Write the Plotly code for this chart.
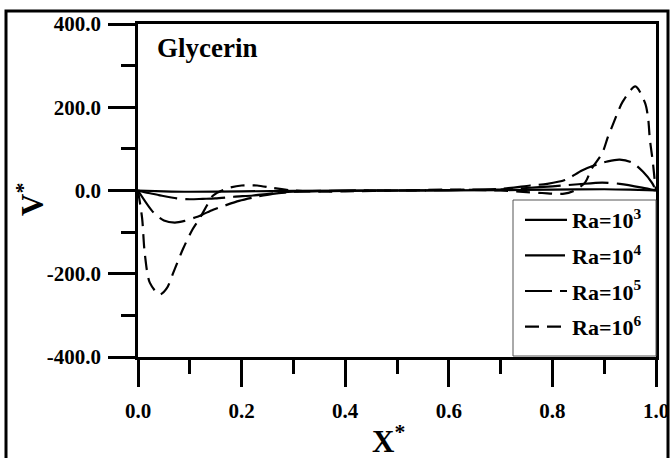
import plotly.graph_objects as go

# ---- data ----
x_ra3 = [0, 0.05, 0.1, 0.2, 0.3, 0.5, 0.7, 0.8, 0.9, 0.95, 1.0]
v_ra3 = [0, -2, -3, -2, -1, 0, 1, 2, 3, 2, 0]

x_ra4 = [0, 0.02, 0.04, 0.075, 0.1, 0.125, 0.149, 0.185, 0.222, 0.26, 0.3, 0.4, 0.5,
         0.6, 0.7, 0.75, 0.8, 0.85, 0.896, 0.93, 0.973, 1.0]
v_ra4 = [0, -6, -11, -19, -21, -20, -19, -15, -12, -7, -3, -1, 0,
         1, 3, 6, 10, 15, 19, 16, 7, 0]

x_ra5 = [0, 0.03, 0.05, 0.071, 0.09, 0.11, 0.124, 0.145, 0.168, 0.195, 0.222, 0.26, 0.3,
         0.4, 0.5, 0.6, 0.7, 0.757, 0.79, 0.824, 0.857, 0.88, 0.907, 0.93, 0.954, 0.975, 0.992, 1.0]
v_ra5 = [0, -53, -72, -77, -73, -65, -58, -46, -36, -25, -17, -8, -3,
         0, 0, 1, 4, 12, 16, 25, 48, 60, 70, 74, 67, 45, 19, 0]

x_ra6 = [0, 0.008, 0.013, 0.023, 0.042, 0.056, 0.068, 0.087, 0.106, 0.12, 0.133, 0.145,
         0.172, 0.2, 0.23, 0.26, 0.3, 0.35, 0.4, 0.5, 0.6, 0.7, 0.75, 0.78, 0.82, 0.84,
         0.863, 0.876, 0.896, 0.907, 0.915, 0.927, 0.936, 0.96, 0.979, 0.985, 0.988, 0.994, 0.998, 1.0]
v_ra6 = [0, -67, -150, -222, -250, -234, -198, -140, -92, -65, -36, -12,
         5, 12, 12, 6, 0, -3, -2, 0, 2, 0, -4, -6, -8, -2,
         19, 53, 89, 128, 153, 190, 214, 250, 210, 171, 125, 67, 19, 0]

series = [
    ("Ra=10<sup>3</sup>", x_ra3, v_ra3, "solid"),
    ("Ra=10<sup>4</sup>", x_ra4, v_ra4, "40px,8px"),
    ("Ra=10<sup>5</sup>", x_ra5, v_ra5, "27px,8px"),
    ("Ra=10<sup>6</sup>", x_ra6, v_ra6, "14px,8px"),
]

y_ticks = [-400, -200, 0, 200, 400]
y_tick_text = ["-400.0", "-200.0", "0.0", "200.0", "400.0"]
x_ticks = [0.0, 0.2, 0.4, 0.6, 0.8, 1.0]
x_tick_text = ["0.0", "0.2", "0.4", "0.6", "0.8", "1.0"]

FONT = "Liberation Serif"

fig = go.Figure()
for i, (name, xs, ys, dash) in enumerate(series):
    fig.add_trace(go.Scatter(
        x=xs, y=ys, mode="lines", name=name, legendgroup=f"g{i}",
        line=dict(color="black", width=2.2, dash=dash, shape="spline", smoothing=0.8),
    ))

axis_common = dict(
    showline=True, linecolor="black", linewidth=2.5, mirror=True,
    ticks="outside", ticklen=27, tickwidth=2.5, tickcolor="black",
    showgrid=False, zeroline=False,
    tickfont=dict(family=FONT, size=21, color="black", weight="bold"),
)

fig.update_xaxes(
    range=[0, 1], tickvals=x_ticks, ticktext=x_tick_text,
    minor=dict(dtick=0.1, ticks="outside", ticklen=14, tickwidth=2.5, tickcolor="black"),
    ticklabelstandoff=6,
    **axis_common,
)
fig.update_yaxes(
    range=[-400, 400], tickvals=y_ticks, ticktext=y_tick_text,
    minor=dict(tickvals=[-300, -100, 100, 300], ticks="outside", ticklen=14, tickwidth=2.5, tickcolor="black"),
    ticklabelstandoff=3,
    **axis_common,
)

L, R, T, B = 138, 15, 24, 101
W, H = 671, 458
pw, ph = W - L - R, H - T - B

def px(xp):
    return (xp - L) / pw

def py(yp):
    return (H - B - yp) / ph

# outer frame
fig.add_shape(type="rect", xref="paper", yref="paper",
              x0=px(6), x1=px(668), y0=py(475), y1=py(11),
              line=dict(color="black", width=3), fillcolor="rgba(0,0,0,0)", layer="below")
# legend box
fig.add_shape(type="rect", xref="paper", yref="paper",
              x0=px(513), x1=px(656), y0=py(356), y1=py(200),
              line=dict(color="#555555", width=1), fillcolor="white", layer="above")

fig.add_annotation(xref="paper", yref="paper", x=px(155), y=py(48),
                   xanchor="left", yanchor="middle", showarrow=False,
                   text="Glycerin", font=dict(family=FONT, size=27, color="black", weight="bold"))
fig.add_annotation(xref="paper", yref="paper", x=px(388), y=py(439),
                   xanchor="center", yanchor="middle", showarrow=False,
                   text="X<sup>*</sup>", font=dict(family=FONT, size=31, color="black", weight="bold"))
fig.add_annotation(xref="paper", yref="paper", x=px(30), y=py(200),
                   xanchor="center", yanchor="middle", showarrow=False, textangle=-90,
                   text="V<sup>*</sup>", font=dict(family=FONT, size=31, color="black", weight="bold"))

fig.update_layout(
    width=W, height=H,
    margin=dict(l=L, r=R, t=T, b=B, autoexpand=False),
    paper_bgcolor="white", plot_bgcolor="white",
    showlegend=True,
    legend=dict(
        x=px(520), y=py(199), xanchor="left", yanchor="top",
        bgcolor="rgba(0,0,0,0)", borderwidth=0,
        font=dict(family=FONT, size=22, color="black", weight="bold"),
        tracegroupgap=4, itemwidth=42,
    ),
)

fig.write_html("out.html")
